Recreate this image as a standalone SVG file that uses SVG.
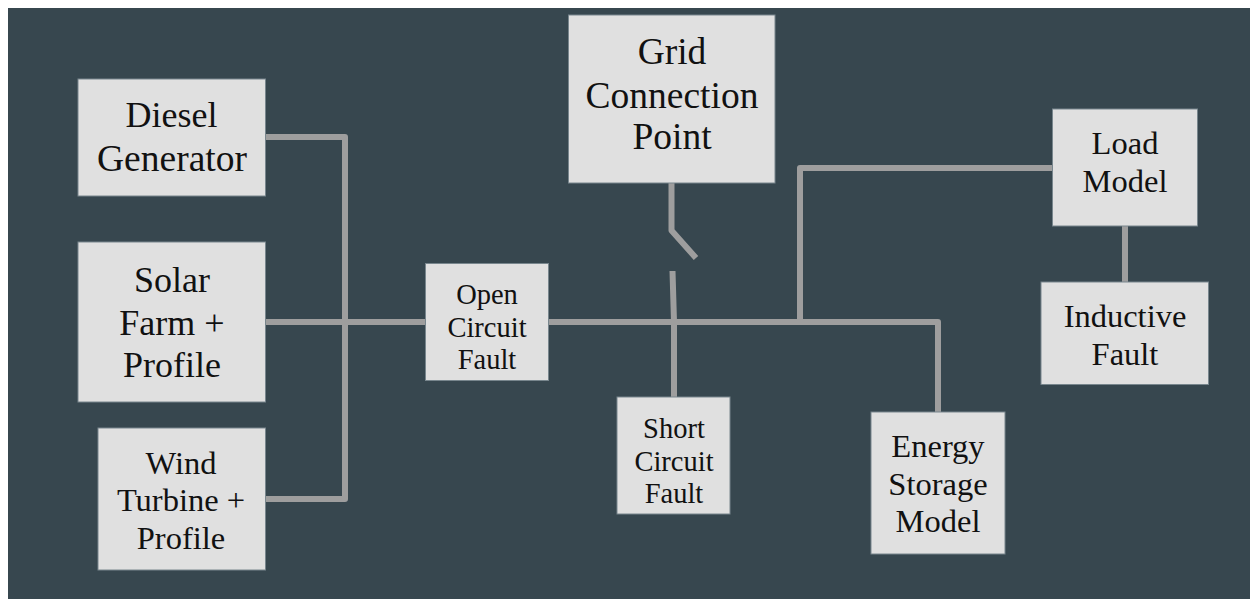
<svg xmlns="http://www.w3.org/2000/svg" width="1250" height="599" viewBox="0 0 1250 599">
<style>
.n{fill:#e0e0e0;stroke:#78868d;stroke-width:1}
.c{fill:none;stroke:#9e9e9e;stroke-width:6;stroke-linejoin:round}
text{font-family:"Liberation Serif",serif;fill:#111;text-anchor:middle}
.a{font-size:37.5px}.s{font-size:36px}.b{font-size:32.5px}.d{font-size:28.5px}
</style>
<rect width="1250" height="599" fill="#fff"/>
<rect x="8" y="8" width="1242" height="591" fill="#37474f"/>
<g id="connectors" class="c">
<path d="M265 137H345V499H265"/>
<path d="M265 322H426"/>
<path d="M548 322H938V412"/>
<path d="M800 322V168H1053"/>
<path d="M671.500 183V230.500L696 258"/>
<path d="M672.500 271L674 322V397"/>
<path d="M1125 226V282"/>
</g>
<g id="diesel"><rect class="n" x="78" y="79" width="187.500" height="117"/><text class="s" x="171.500" y="127">Diesel</text><text class="a" x="172" y="171">Generator</text></g>
<g id="solar"><rect class="n" x="78" y="242" width="187.500" height="160"/><text class="s" x="172" y="292">Solar</text><text class="s" x="172" y="335">Farm +</text><text class="s" x="172" y="377">Profile</text></g>
<g id="wind"><rect class="n" x="98" y="428" width="167.500" height="142"/><text class="b" x="181" y="474">Wind</text><text class="b" x="181" y="511">Turbine +</text><text class="b" x="181" y="549">Profile</text></g>
<g id="open"><rect class="n" x="425.500" y="263.500" width="123" height="117"/><text class="d" x="487" y="304">Open</text><text class="d" x="487" y="337">Circuit</text><text class="d" x="487" y="369">Fault</text></g>
<g id="grid"><rect class="n" x="568.500" y="15" width="206.500" height="168"/><text class="a" x="672" y="64">Grid</text><text class="a" x="672" y="108">Connection</text><text class="a" x="672" y="149">Point</text></g>
<g id="short"><rect class="n" x="617" y="397" width="113" height="117"/><text class="d" x="674" y="438">Short</text><text class="d" x="674" y="471">Circuit</text><text class="d" x="674" y="503">Fault</text></g>
<g id="storage"><rect class="n" x="871" y="412" width="134" height="142"/><text class="b" x="938" y="457">Energy</text><text class="b" x="938" y="495">Storage</text><text class="b" x="938" y="532">Model</text></g>
<g id="load"><rect class="n" x="1052.500" y="109" width="145" height="117"/><text class="b" x="1125" y="154">Load</text><text class="b" x="1125" y="192">Model</text></g>
<g id="inductive"><rect class="n" x="1041" y="282" width="167.500" height="102.500"/><text class="b" x="1125" y="327">Inductive</text><text class="b" x="1125" y="365">Fault</text></g>
</svg>
